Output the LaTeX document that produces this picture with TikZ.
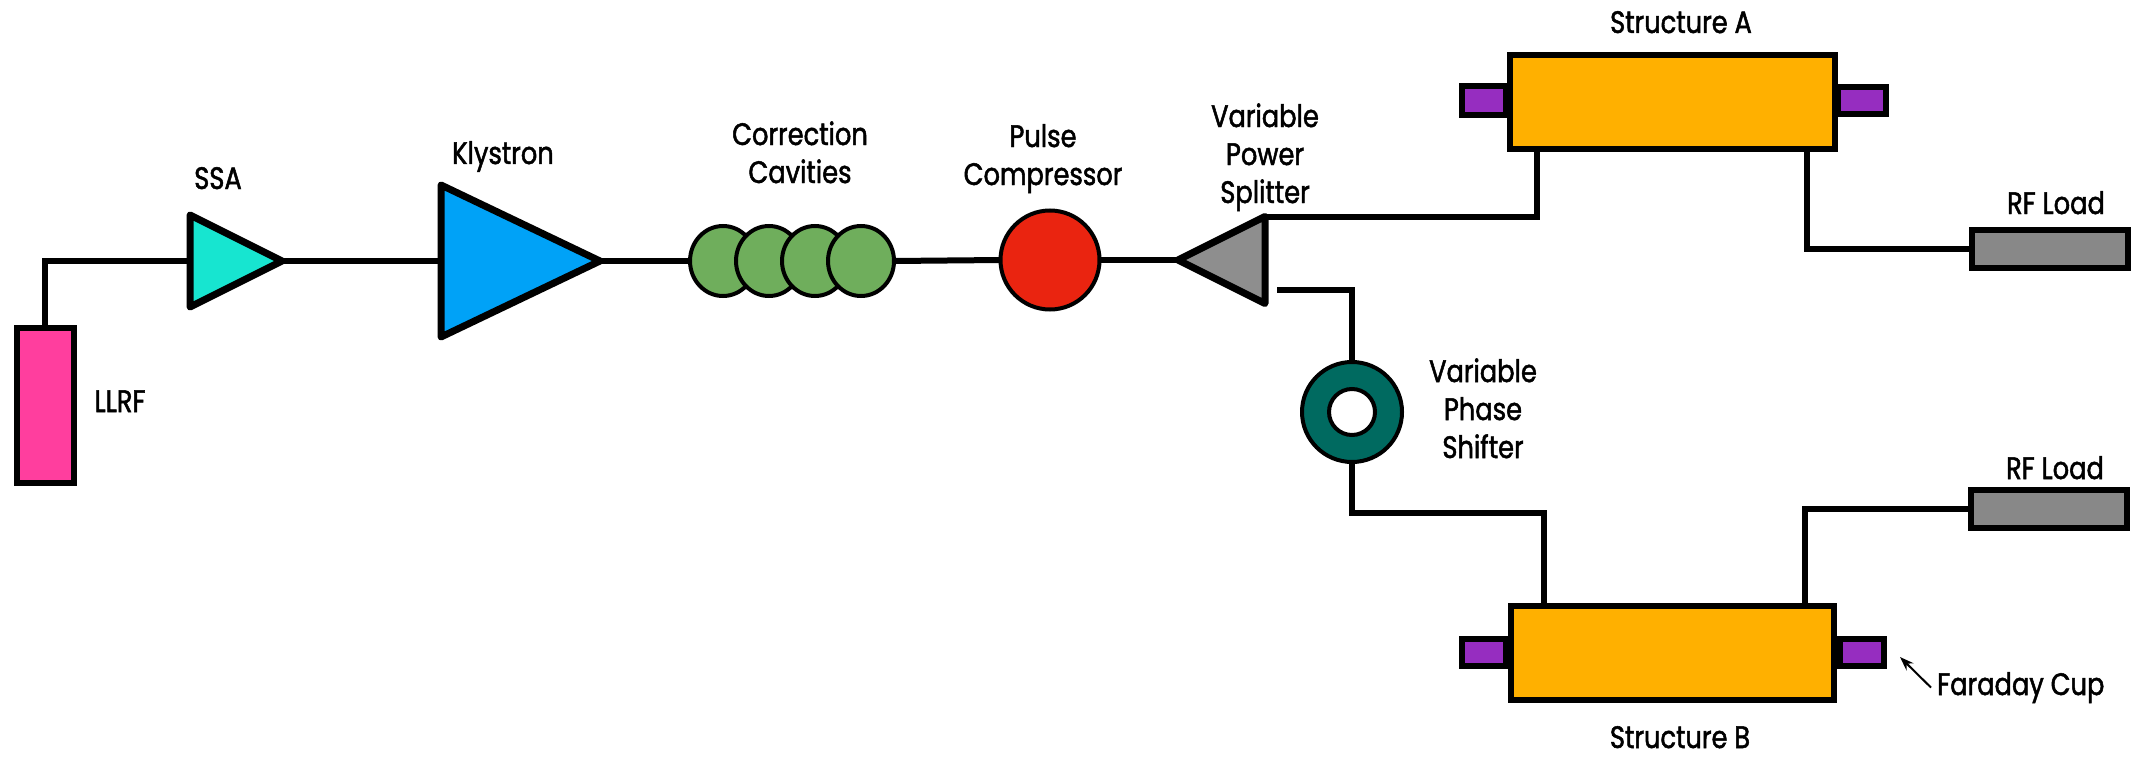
\documentclass[tikz,border=0pt]{standalone}
\usepackage{fontspec}
\setmainfont{Poppins}[FakeStretch=0.83,FakeBold=1.6]
\usetikzlibrary{shapes.geometric,arrows.meta,calc}
\definecolor{cPink}{RGB}{255,62,158}
\definecolor{cSSA}{RGB}{23,229,208}
\definecolor{cKly}{RGB}{0,162,247}
\definecolor{cCav}{RGB}{111,174,92}
\definecolor{cRed}{RGB}{234,36,16}
\definecolor{cSplit}{RGB}{142,142,142}
\definecolor{cPhase}{RGB}{0,106,96}
\definecolor{cStr}{RGB}{255,176,0}
\definecolor{cPurp}{RGB}{150,45,192}
\definecolor{cLoad}{RGB}{136,136,136}
\begin{document}
\begin{tikzpicture}[x=1pt,y=-1pt,
  wire/.style={line width=6pt,draw=black},
  blk/.style={rectangle,draw=black,line width=6pt,inner sep=0pt,outer sep=0pt},
  amp/.style={isosceles triangle,isosceles triangle stretches,draw=black,line width=7pt,line join=round,inner sep=0pt,outer sep=0pt},
  disc/.style={ellipse,draw=black,line width=4pt,inner sep=0pt,outer sep=0pt},
  lbl/.style={font=\fontsize{31}{38}\selectfont,align=center,inner sep=0pt,anchor=base}]
\fill[white] (0,0) rectangle (2133,757);
\useasboundingbox (0,0) rectangle (2133,757);

% components
\node[blk,fill=cPink,minimum width=57,minimum height=155] (llrf) at (45,405) {};
\node[amp,fill=cSSA,minimum width=92,minimum height=92,anchor=apex] (ssa) at (282,261) {};
\node[amp,fill=cKly,minimum width=152,minimum height=159,anchor=apex] (kly) at (600,261) {};
\foreach \i/\x in {1/723,2/769,3/815,4/861}
  \node[disc,fill=cCav,minimum width=66,minimum height=70] (cav\i) at (\x,261) {};
\node[disc,fill=cRed,minimum size=99] (comp) at (1050,260) {};
\node[amp,fill=cSplit,minimum width=87,minimum height=87,shape border rotate=180,anchor=apex] (split) at (1178,260) {};
\node[disc,fill=cPhase,minimum size=100] (phase) at (1352,412) {};
\node[disc,fill=white,minimum size=46] (phasehole) at (1352,412) {};
% structure A
\node[blk,fill=cPurp,minimum width=44,minimum height=29] (capAL) at (1484,101) {};
\node[blk,fill=cPurp,minimum width=48,minimum height=27] (capAR) at (1862,101) {};
\node[blk,fill=cStr,minimum width=325,minimum height=94] (strA) at (1672,102) {};
\node[blk,fill=cLoad,minimum width=156,minimum height=38] (rfA) at (2050,249) {};
% structure B
\node[blk,fill=cPurp,minimum width=44,minimum height=27] (capBL) at (1484,652) {};
\node[blk,fill=cPurp,minimum width=44,minimum height=27] (capBR) at (1862,652) {};
\node[blk,fill=cStr,minimum width=323,minimum height=94] (strB) at (1672,653) {};
\node[blk,fill=cLoad,minimum width=156,minimum height=38] (rfB) at (2049,509) {};

% connectors
\draw[wire] (llrf.north) |- (ssa.west);
\draw[wire] (ssa.apex) -- (kly.west);
\draw[wire] (kly.apex) -- (cav1.west);
\draw[wire] (cav4.east) -- (comp.west);
\draw[wire] (comp.east) -- (split.apex);
\draw[wire] ([yshift=43pt]split.east) -| ([xshift=27pt]strA.south west);
\draw[wire] ([xshift=-28pt]strA.south east) |- (rfA.west);
\draw[wire] ([xshift=12pt,yshift=-30pt]split.east) -| (phase.north);
\draw[wire] (phase.south) -- ++(0,51) -| ([xshift=33pt]strB.north west);
\draw[wire] ([xshift=-29pt]strB.north east) |- (rfB.west);

% labels (base = baseline of the last line)
\node[lbl] (lSSA) at (218,189) {SSA};
\node[lbl] (lKly) at (503,164) {Klystron};
\node[lbl] (lLLRF) at (120,412) {LLRF};
\node[lbl] (lCav) at (800,183) {Correction\\Cavities};
\node[lbl] (lComp) at (1043,185) {Pulse\\Compressor};
\node[lbl] (lSplit) at (1265,203) {Variable\\Power\\Splitter};
\node[lbl] (lPhase) at (1483,458) {Variable\\Phase\\Shifter};
\node[lbl] (lStrA) at (1681,33) {Structure A};
\node[lbl] (lRFA) at (2056,214) {RF Load};
\node[lbl] (lRFB) at (2055,479) {RF Load};
\node[lbl] (lStrB) at (1680,748) {Structure B};
\node[lbl,anchor=base west] (lFC) at (1937,695) {Faraday Cup};
\coordinate (fcTip) at (1900,657);
\draw[line width=2pt,-{Stealth[length=14pt,width=10pt]}] ([xshift=-6pt]lFC.west) -- (fcTip);
\end{tikzpicture}
\end{document}
